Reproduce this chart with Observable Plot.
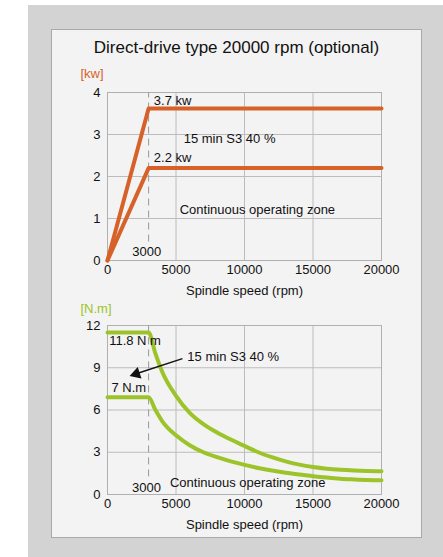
<!DOCTYPE html>
<html>
<head>
<meta charset="utf-8">
<script src="https://cdn.jsdelivr.net/npm/d3@7"></script>
<script src="https://cdn.jsdelivr.net/npm/@observablehq/plot@0.6"></script>
<style>
  html, body { margin: 0; padding: 0; background: #ffffff; width: 443px; height: 557px; overflow: hidden; }
  body { position: relative; font-family: "Liberation Sans", Arial, sans-serif; }
  #outer { position: absolute; left: 28px; top: 5px; width: 415px; height: 552px; background: #d3d3d3; }
  #inner { position: absolute; left: 51px; top: 29px; width: 369px; height: 507px; background: #f3f3f3; border: 1px solid #a9a9a9; }
  #title { position: absolute; left: 51px; top: 38px; width: 371px; text-align: center; font-size: 17px; color: #111; }
  .chart { position: absolute; left: 51px; }
  #top { top: 65px; }
  #bottom { top: 300px; }
</style>
</head>
<body>
<div id="outer"></div>
<div id="inner"></div>
<div id="title">Direct-drive type 20000 rpm (optional)</div>
<div id="top" class="chart"></div>
<div id="bottom" class="chart"></div>
<script>
// ---- data ----
const xTicks = [0, 5000, 10000, 15000, 20000];
const powerTicks = [0, 1, 2, 3, 4];
const torqueTicks = [0, 3, 6, 9, 12];

const powerRpm = [0, 3000, 20000];
const powerS3 = [0, 3.62, 3.62];        // kW, 15 min S3 40 %
const powerCont = [0, 2.2, 2.2];        // kW, continuous

const torqueRpm = [0, 3000, 3500, 4000, 5000, 6000, 7000, 8000, 9000, 10000, 11000, 12000, 13000, 14000, 15000, 16000, 17000, 18000, 19000, 20000];
const torqueS3 = [11.5, 11.5, 10.0, 8.7, 7.0, 5.8, 5.0, 4.4, 3.9, 3.45, 3.0, 2.65, 2.35, 2.12, 1.95, 1.83, 1.75, 1.7, 1.67, 1.65];
const torqueCont = [6.9, 6.9, 6.0, 5.2, 4.2, 3.5, 3.0, 2.65, 2.35, 2.1, 1.88, 1.7, 1.55, 1.42, 1.3, 1.2, 1.12, 1.07, 1.03, 1.01];

const orange = "#d6622a";
const green = "#9cc42a";
const font = "Liberation Sans, Arial, sans-serif";

const powerS3Data = powerRpm.map((x, i) => ({x, y: powerS3[i]}));
const powerContData = powerRpm.map((x, i) => ({x, y: powerCont[i]}));
const torqueS3Data = torqueRpm.map((x, i) => ({x, y: torqueS3[i]}));
const torqueContData = torqueRpm.map((x, i) => ({x, y: torqueCont[i]}));

function axes(yTicks) {
  return [
    Plot.gridX(xTicks, {stroke: "#bcbcbc", strokeOpacity: 1, strokeWidth: 1}),
    Plot.gridY(yTicks, {stroke: "#bcbcbc", strokeOpacity: 1, strokeWidth: 1}),
    Plot.frame({stroke: "#b0b0b0", strokeWidth: 1}),
    Plot.axisX(xTicks, {tickSize: 0, tickPadding: 4, fontSize: 13, fill: "#111", tickFormat: d3.format("d"),
      label: "Spindle speed (rpm)", labelAnchor: "center", labelArrow: "none", labelOffset: 34}),
    Plot.axisY(yTicks, {tickSize: 0, tickPadding: 7, fontSize: 13, fill: "#111", label: null})
  ];
}

const topChart = Plot.plot({
  width: 371, height: 235,
  marginLeft: 56, marginRight: 41, marginTop: 27, marginBottom: 40,
  style: {fontFamily: font, fontSize: "13px", background: "transparent", color: "#111"},
  x: {domain: [0, 20000]},
  y: {domain: [0, 4]},
  marks: [
    ...axes(powerTicks),
    Plot.ruleX([3000], {y1: 0.44, y2: 4, stroke: "#999", strokeDasharray: "7,5", strokeWidth: 1}),
    Plot.line(powerS3Data, {x: "x", y: "y", stroke: orange, strokeWidth: 4}),
    Plot.line(powerContData, {x: "x", y: "y", stroke: orange, strokeWidth: 4}),
    Plot.text(["[kw]"], {frameAnchor: "top-left", dx: -27, dy: -24, textAnchor: "start", fill: orange, fontSize: 13}),
    Plot.text(["3.7 kw"], {x: 3380, y: 3.79, textAnchor: "start", fontSize: 13, fill: "#111"}),
    Plot.text(["15 min S3 40 %"], {x: 5560, y: 2.9, textAnchor: "start", fontSize: 13, fill: "#111"}),
    Plot.text(["2.2 kw"], {x: 3380, y: 2.45, textAnchor: "start", fontSize: 13, fill: "#111"}),
    Plot.text(["Continuous operating zone"], {x: 5270, y: 1.21, textAnchor: "start", fontSize: 13, fill: "#111"}),
    Plot.text(["3000"], {x: 2870, y: 0.21, textAnchor: "middle", fontSize: 13, fill: "#111"})
  ]
});
document.getElementById("top").appendChild(topChart);

const bottomChart = Plot.plot({
  width: 371, height: 235,
  marginLeft: 56, marginRight: 41, marginTop: 25, marginBottom: 41,
  style: {fontFamily: font, fontSize: "13px", background: "transparent", color: "#111"},
  x: {domain: [0, 20000]},
  y: {domain: [0, 12]},
  marks: [
    ...axes(torqueTicks),
    Plot.ruleX([3000], {y1: 1.25, y2: 12, stroke: "#999", strokeDasharray: "7,5", strokeWidth: 1}),
    Plot.line(torqueS3Data, {x: "x", y: "y", stroke: green, strokeWidth: 4, curve: "monotone-x"}),
    Plot.line(torqueContData, {x: "x", y: "y", stroke: green, strokeWidth: 4, curve: "monotone-x"}),
    Plot.text(["[N.m]"], {frameAnchor: "top-left", dx: -27, dy: -22, textAnchor: "start", fill: green, fontSize: 13}),
    Plot.text(["11.8 N m"], {x: 120, y: 10.9, textAnchor: "start", fontSize: 13, fill: "#111"}),
    Plot.text(["7 N.m"], {x: 290, y: 7.59, textAnchor: "start", fontSize: 13, fill: "#111"}),
    Plot.text(["15 min S3 40 %"], {x: 5830, y: 9.81, textAnchor: "start", fontSize: 13, fill: "#111"}),
    Plot.link([{x1: 5470, y1: 9.65, x2: 2150, y2: 8.59}], {x1: "x1", y1: "y1", x2: "x2", y2: "y2", stroke: "#111", strokeWidth: 1.5}),
    Plot.dot([{x: 2100, y: 8.57}], {x: "x", y: "y", symbol: "triangle", r: 4.5, fill: "#111", stroke: "none", rotate: 252}),
    Plot.text(["3000"], {x: 2850, y: 0.5, textAnchor: "middle", fontSize: 13, fill: "#111"}),
    Plot.text(["Continuous operating zone"], {x: 4560, y: 0.85, textAnchor: "start", fontSize: 13, fill: "#111"})
  ]
});
document.getElementById("bottom").appendChild(bottomChart);
</script>
</body>
</html>
